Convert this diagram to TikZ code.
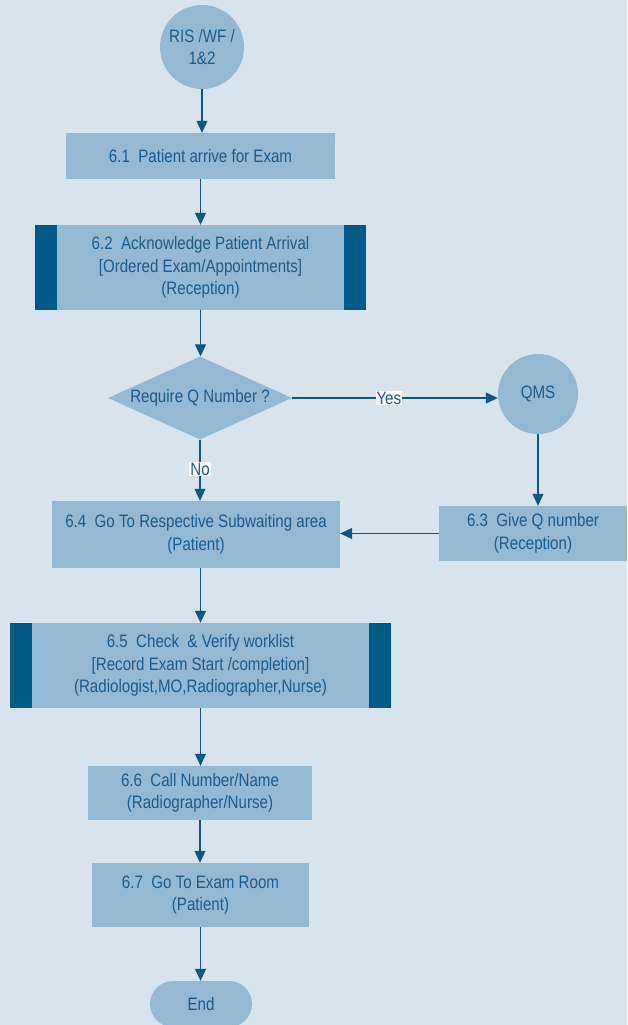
\documentclass[tikz,border=0pt]{standalone}
\usepackage{fontspec}
\setmainfont{Liberation Sans}[FakeStretch=0.84]
\usetikzlibrary{arrows.meta,shapes.geometric}
\definecolor{bg}{RGB}{215,228,238}
\definecolor{nodefill}{RGB}{147,185,211}
\definecolor{bar}{RGB}{0,90,135}
\definecolor{txt}{RGB}{26,92,138}
\definecolor{ln}{RGB}{10,88,128}
\begin{document}
\begin{tikzpicture}[x=1pt,y=-1pt,
  every node/.style={font=\fontsize{18}{22.5}\selectfont, text=txt, align=center, inner sep=0pt},
  box/.style={rectangle, fill=nodefill},
  barbox/.style={rectangle, fill=nodefill, path picture={
      \fill[bar] (path picture bounding box.north west) rectangle ([xshift=22pt]path picture bounding box.south west);
      \fill[bar] (path picture bounding box.north east) rectangle ([xshift=-22pt]path picture bounding box.south east);}},
  term/.style={circle, fill=nodefill},
  flow/.style={draw=ln, line width=1.1pt, -{Triangle[length=12pt,width=11pt]}},
  lbl/.style={fill=white, inner sep=1pt}]
\fill[bg] (0,0) rectangle (627,1025);
\useasboundingbox (0,0) rectangle (627,1025);

\node[term, minimum size=84pt] (ris) at (202,47) {RIS /WF /\\1\&2};
\node[box, minimum width=269pt, minimum height=46pt] (n61) at (200.5,156) {6.1\ \ Patient arrive for Exam};
\node[barbox, minimum width=331pt, minimum height=85pt] (n62) at (200.5,267.5) {6.2\ \ Acknowledge Patient Arrival\\{}[Ordered Exam/Appointments]\\(Reception)};
\node[diamond, fill=nodefill, minimum width=184pt, minimum height=83pt] (q) at (200,398) {};
\node (qt) at (q) {Require Q Number ?};
\node[term, minimum size=80pt] (qms) at (538,394) {QMS};
\node[box, minimum width=188pt, minimum height=55pt] (n63) at (533,533.5) {6.3\ \ Give Q number\\(Reception)};
\node[box, minimum width=288pt, minimum height=67pt] (n64) at (196,534.5) {6.4\ \ Go To Respective Subwaiting area\\(Patient)};
\node[barbox, minimum width=381pt, minimum height=85pt] (n65) at (200.5,665.5) {6.5\ \ Check\ \ \& Verify worklist\\{}[Record Exam Start /completion]\\(Radiologist,MO,Radiographer,Nurse)};
\node[box, minimum width=224pt, minimum height=54pt] (n66) at (200,793) {6.6\ \ Call Number/Name\\(Radiographer/Nurse)};
\node[box, minimum width=217pt, minimum height=64pt] (n67) at (200.5,895) {6.7\ \ Go To Exam Room\\(Patient)};
\node[rectangle, fill=nodefill, rounded corners=23pt, minimum width=102pt, minimum height=46pt] (end) at (201,1004) {End};

\draw[flow] (ris.south) -- (ris.south |- n61.north);
\draw[flow] (n61.south) -- (n61.south |- n62.north);
\draw[flow] (n62.south) -- (n62.south |- q.north);
\draw[flow] (q.east) -- node[lbl, pos=0.47] (yes) {Yes} (q.east -| qms.west);
\draw[flow] (q.south) -- node[lbl, pos=0.48] (no) {No} (q.south |- n64.north);
\draw[flow] (qms.south) -- (qms.south |- n63.north);
\draw[flow] (n63.west) -- (n64.east |- n63.west);
\draw[flow] (n64.south -| n65.north) -- (n65.north);
\draw[flow] (n65.south) -- (n65.south |- n66.north);
\draw[flow] (n66.south) -- (n66.south |- n67.north);
\draw[flow] (n67.south) -- (n67.south |- end.north);
\end{tikzpicture}
\end{document}
